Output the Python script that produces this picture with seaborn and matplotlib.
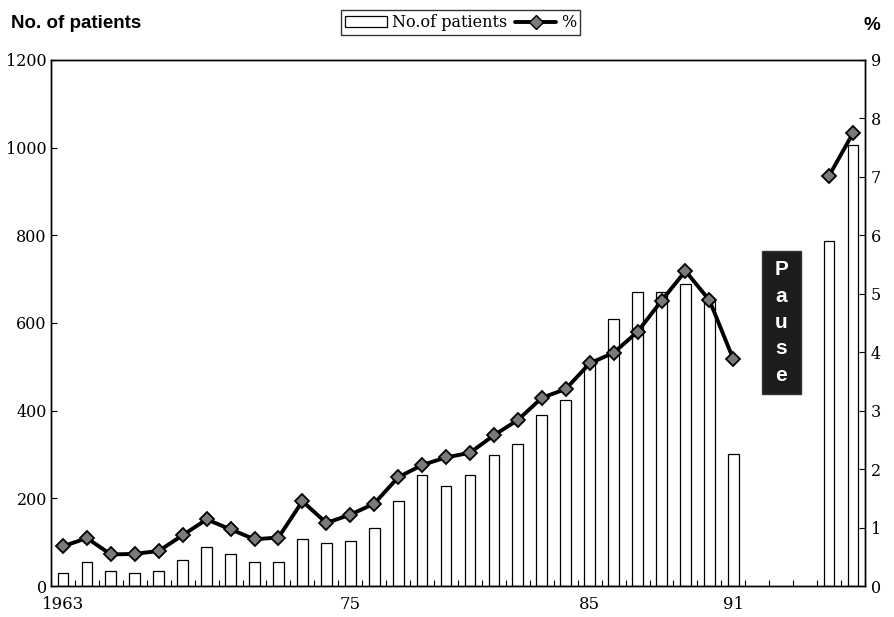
import numpy as np
import pandas as pd
import matplotlib
matplotlib.use("Agg")
import matplotlib.pyplot as plt
from matplotlib.patches import Patch, Rectangle
from matplotlib.lines import Line2D
import seaborn as sns

# Yearly data, 1963-1996 (no survey 1992-1994)
years = list(range(1963, 1997))
patients = [30, 54, 35, 30, 35, 59, 88, 73, 55, 55, 107, 98, 103, 133,
            194, 254, 229, 253, 298, 325, 390, 424, 508, 610, 671, 671,
            689, 650, 301, np.nan, np.nan, np.nan, 788, 1007]
percent = [0.68, 0.82, 0.54, 0.55, 0.60, 0.87, 1.14, 0.97, 0.80, 0.83,
           1.45, 1.08, 1.22, 1.41, 1.86, 2.07, 2.20, 2.28, 2.58, 2.84,
           3.22, 3.37, 3.81, 3.99, 4.35, 4.88, 5.39, 4.89, 3.88,
           np.nan, np.nan, np.nan, 7.02, 7.75]
period = ["1963-91"] * 29 + ["pause"] * 3 + ["1995-96"] * 2
xtick_years = [1963, 1975, 1985, 1991]
xtick_labels = ["1963", "75", "85", "91"]

df = pd.DataFrame({"year": [str(y) for y in years], "idx": range(len(years)),
                   "patients": patients, "percent": percent, "period": period})

sns.set_theme(style="white")
plt.rcParams["font.family"] = ["DejaVu Serif"]
plt.rcParams.update({"text.color": "black", "axes.labelcolor": "black",
                     "xtick.color": "black", "ytick.color": "black"})

fig = plt.figure(figsize=(8.95, 6.17), dpi=100)
ax = fig.add_axes([0.057, 0.0502, 0.9095, 0.8526])

sns.barplot(data=df, x="year", y="patients", order=df["year"].tolist(),
            color="white", edgecolor="black", linewidth=0.9, width=0.45,
            saturation=1, ax=ax)

ax2 = ax.twinx()
line_df = df.dropna(subset=["percent"])
sns.lineplot(data=line_df, x="idx", y="percent", units="period",
             estimator=None, color="black", linewidth=2.8, marker="D",
             markersize=7.5, markerfacecolor="#7a7a7a",
             markeredgecolor="black", markeredgewidth=1.3,
             legend=False, ax=ax2)

n = len(years)
for a in (ax, ax2):
    a.set_xlim(-0.5, n - 0.5)
    a.set_xlabel("")
    a.set_ylabel("")
    a.grid(False)
ax.set_ylim(0, 1200)
ax2.set_ylim(0, 9)

ax.set_yticks(range(0, 1201, 200))
ax2.set_yticks(range(0, 10))
ax.set_xticks([years.index(y) for y in xtick_years])
ax.set_xticklabels(xtick_labels)
ax.set_xticks(np.arange(-0.5, n, 1.0), minor=True)

ax.tick_params(axis="x", which="major", length=0, labelsize=12, pad=7)
ax.tick_params(axis="x", which="minor", direction="in", length=4,
               width=0.8, color="black", bottom=True)
ax.tick_params(axis="y", direction="in", length=4, width=0.8,
               color="black", labelsize=11.5, left=True, pad=3)
ax2.tick_params(axis="y", direction="in", length=4, width=0.8,
                color="black", labelsize=11.5, right=True, pad=4)

for a in (ax, ax2):
    for s in a.spines.values():
        s.set_visible(True)
        s.set_color("black")
        s.set_linewidth(1.0)

# "Pause" marker over the missing years
pause_x = years.index(1993)
ax.add_patch(Rectangle((pause_x - 0.82, 438), 1.64, 326,
                       facecolor="#1c1c1c", edgecolor="#333333",
                       zorder=5))
for k, ch in enumerate("Pause"):
    ax.text(pause_x, 721 - 60 * k, ch, color="white", fontsize=15,
            fontweight="bold", family="Liberation Sans",
            ha="center", va="center", zorder=6)

# Axis titles
fig.text(0.012, 0.962, "No. of patients", fontsize=13.5, fontweight="bold",
         family="Liberation Sans", ha="left", va="center", color="black")
fig.text(0.983, 0.958, "%", fontsize=13.5, fontweight="bold",
         family="Liberation Sans", ha="right", va="center", color="black")

handles = [Patch(facecolor="white", edgecolor="black", linewidth=0.9),
           Line2D([], [], color="black", linewidth=2.8, marker="D",
                  markersize=7.5, markerfacecolor="#7a7a7a",
                  markeredgecolor="black")]
leg = fig.legend(handles, ["No.of patients", "%"], ncol=2,
                 loc="center", bbox_to_anchor=(0.515, 0.963),
                 frameon=True, fancybox=False, edgecolor="black",
                 fontsize=11.5, handlelength=2.6, handletextpad=0.3,
                 columnspacing=0.5, borderpad=0.25)
leg.get_frame().set_linewidth(1.0)

fig.savefig("out.png", dpi=100)
